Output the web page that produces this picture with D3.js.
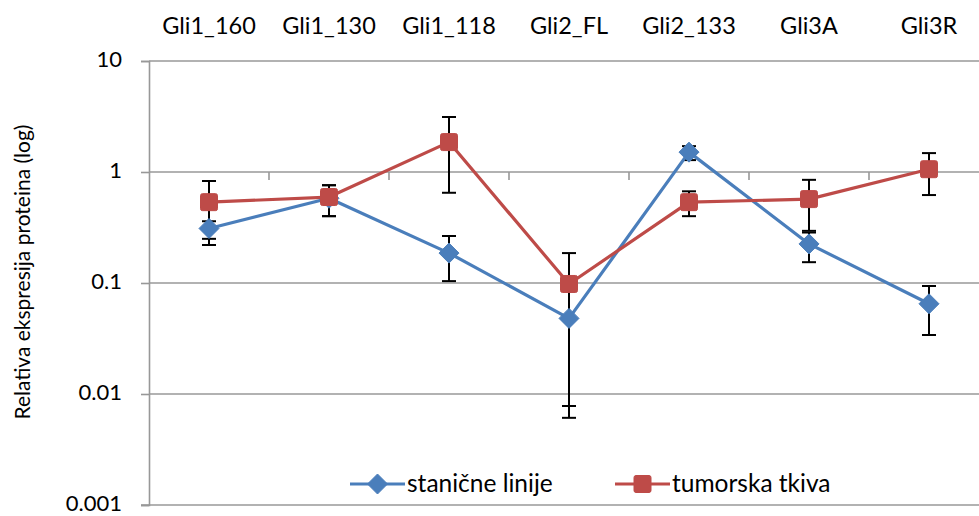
<!DOCTYPE html>
<html>
<head>
<meta charset="utf-8">
<script src="https://cdn.jsdelivr.net/npm/d3@7"></script>
<style>
  html, body { margin: 0; padding: 0; background: #fff; }
  svg { display: block; font-family: Lato, "Open Sans", sans-serif; }
</style>
</head>
<body>
<svg id="chart" width="979" height="516"></svg>
<script>
// Gli protein isoforms
const categories = ["Gli1_160", "Gli1_130", "Gli1_118", "Gli2_FL", "Gli2_133", "Gli3A", "Gli3R"];

// Cell lines (stanične linije): mean, lower and upper error limits
const cellValues = [0.31, 0.58, 0.186, 0.048, 1.51, 0.225, 0.065];
const cellLow    = [0.25, 0.40, 0.104, 0.0061, 1.28, 0.154, 0.034];
const cellHigh   = [0.36, 0.76, 0.265, 0.09, 1.71, 0.285, 0.094];

// Tumour tissue (tumorska tkiva): mean, lower and upper error limits
const tissueValues = [0.535, 0.595, 1.86, 0.098, 0.535, 0.57, 1.06];
const tissueLow    = [0.22, 0.40, 0.65, 0.0078, 0.40, 0.295, 0.62];
const tissueHigh   = [0.83, 0.76, 3.13, 0.186, 0.67, 0.85, 1.48];

const yTicks = [0.001, 0.01, 0.1, 1, 10];
const yTickLabels = ["0.001", "0.01", "0.1", "1", "10"];

const seriesNames = ["stanične linije", "tumorska tkiva"];
const seriesColors = ["#4a7ebb", "#be4b48"];

const svg = d3.select("#chart");
const plotLeft = 149, plotTop = 61, plotBottom = 505, plotRight = 989;

const x = d3.scaleBand().domain(categories).range([plotLeft, plotRight]);
const y = d3.scaleLog().domain([0.001, 10]).range([plotBottom, plotTop]);

// horizontal gridlines
svg.append("g").selectAll("line").data(yTicks.slice(1)).join("line")
  .attr("x1", plotLeft).attr("x2", plotRight)
  .attr("y1", d => y(d)).attr("y2", d => y(d))
  .attr("stroke", "#989898").attr("stroke-width", 1.6);

// y axis
const yAxis = d3.axisLeft(y).tickValues(yTicks)
  .tickFormat((d, i) => yTickLabels[i]).tickSize(8).tickPadding(19);
const gy = svg.append("g").attr("transform", `translate(${plotLeft},0)`).call(yAxis);
gy.select(".domain").attr("stroke", "#989898").attr("stroke-width", 1.6);
gy.selectAll(".tick line").attr("stroke", "#989898").attr("stroke-width", 1.6);
gy.selectAll(".tick text").attr("font-size", 22).attr("fill", "#000")
  .attr("dy", "0.25em")
  .attr("font-family", "Lato, 'Open Sans', sans-serif");

// bottom axis line at 0.001
svg.append("line").attr("x1", plotLeft - 8).attr("x2", plotRight)
  .attr("y1", y(0.001)).attr("y2", y(0.001))
  .attr("stroke", "#989898").attr("stroke-width", 1.6);

// category axis crossing at 1: ticks between categories, labels at top
const boundaries = categories.slice(1).map(c => x(c));
svg.append("g").selectAll("line").data(boundaries).join("line")
  .attr("x1", d => d).attr("x2", d => d)
  .attr("y1", y(1)).attr("y2", y(1) + 8)
  .attr("stroke", "#989898").attr("stroke-width", 1.6);

svg.append("g").selectAll("text").data(categories).join("text")
  .attr("x", d => x(d) + x.bandwidth() / 2)
  .attr("y", 34)
  .attr("text-anchor", "middle")
  .attr("font-size", 23.5)
  .text(d => d);

// y axis title
svg.append("text")
  .attr("transform", `translate(30,${(plotTop + plotBottom) / 2 - 11}) rotate(-90)`)
  .attr("text-anchor", "middle")
  .attr("font-size", 21)
  .text("Relativa ekspresija proteina (log)");

const cx = c => x(c) + x.bandwidth() / 2;

function drawErrors(low, high) {
  const g = svg.append("g").attr("stroke", "#000").attr("stroke-width", 2);
  categories.forEach((c, i) => {
    const px = cx(c);
    g.append("line").attr("x1", px).attr("x2", px)
      .attr("y1", y(low[i])).attr("y2", y(high[i]));
    [low[i], high[i]].forEach(v => {
      g.append("line").attr("x1", px - 7).attr("x2", px + 7)
        .attr("y1", y(v)).attr("y2", y(v));
    });
  });
}

function drawMarker(g, px, py, color, shape) {
  if (shape === "diamond") {
    g.append("path")
      .attr("d", `M${px},${py - 10}L${px + 10},${py}L${px},${py + 10}L${px - 10},${py}Z`)
      .attr("fill", color).attr("stroke", color).attr("stroke-width", 1)
      .attr("stroke-linejoin", "round");
  } else {
    g.append("rect")
      .attr("x", px - 8.5).attr("y", py - 8.5)
      .attr("width", 17).attr("height", 17).attr("rx", 2)
      .attr("fill", color).attr("stroke", color).attr("stroke-width", 1);
  }
}

function drawSeries(values, color, shape) {
  const line = d3.line().x((d, i) => cx(categories[i])).y(d => y(d));
  svg.append("path").datum(values)
    .attr("d", line).attr("fill", "none")
    .attr("stroke", color).attr("stroke-width", 3.2)
    .attr("stroke-linejoin", "round");
  const g = svg.append("g");
  values.forEach((v, i) => drawMarker(g, cx(categories[i]), y(v), color, shape));
}

drawErrors(cellLow, cellHigh);
drawErrors(tissueLow, tissueHigh);
drawSeries(cellValues, seriesColors[0], "diamond");
drawSeries(tissueValues, seriesColors[1], "square");

// legend
const legendItems = [
  { name: seriesNames[0], color: seriesColors[0], shape: "diamond", x0: 350 },
  { name: seriesNames[1], color: seriesColors[1], shape: "square", x0: 615 }
];
const lg = svg.append("g");
legendItems.forEach(it => {
  const ly = 484;
  lg.append("line").attr("x1", it.x0).attr("x2", it.x0 + 55)
    .attr("y1", ly).attr("y2", ly)
    .attr("stroke", it.color).attr("stroke-width", 3.2);
  drawMarker(lg, it.x0 + 27.5, ly, it.color, it.shape);
  lg.append("text").attr("x", it.x0 + 57).attr("y", ly + 8)
    .attr("font-size", 24.5).text(it.name);
});
</script>
</body>
</html>
